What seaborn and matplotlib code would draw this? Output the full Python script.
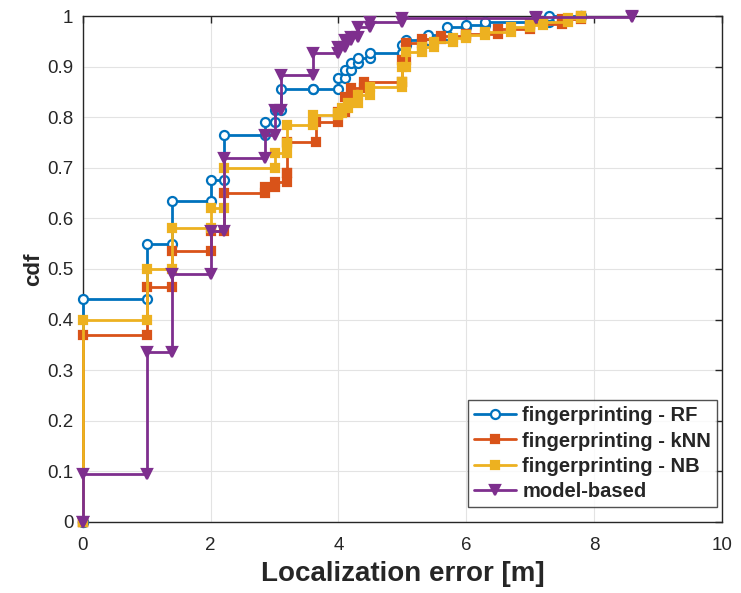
import numpy as np
import pandas as pd
import matplotlib
matplotlib.use("Agg")
import matplotlib.pyplot as plt
import seaborn as sns

# ---- data (step points: value becomes y[i] at x[i]) ----
rf_x = [0, 0, 1, 1.4, 2, 2.2, 2.85, 3.0, 3.1, 3.6, 4.0, 4.1, 4.2, 4.3, 4.5, 5.0, 5.05, 5.4, 5.7, 6.0, 6.3, 7.3, 7.8]
rf_y = [0, 0.44, 0.55, 0.635, 0.675, 0.765, 0.79, 0.815, 0.855, 0.855, 0.877, 0.893, 0.907, 0.917, 0.927, 0.943, 0.953, 0.962, 0.978, 0.982, 0.988, 1.0, 1.0]

knn_x = [0, 0, 1, 1.4, 2, 2.2, 2.85, 3.0, 3.2, 3.2, 3.65, 4.0, 4.1, 4.2, 4.4, 5.0, 5.05, 5.3, 5.6, 6.0, 6.5, 7.0, 7.5, 7.8]
knn_y = [0, 0.37, 0.465, 0.535, 0.575, 0.65, 0.662, 0.672, 0.69, 0.75, 0.79, 0.81, 0.84, 0.858, 0.87, 0.913, 0.947, 0.955, 0.96, 0.965, 0.975, 0.985, 0.995, 1.0]

nb_x = [0, 0, 1, 1.4, 2, 2.2, 3.0, 3.2, 3.2, 3.6, 4.0, 4.05, 4.15, 4.3, 4.5, 5.0, 5.0, 5.05, 5.3, 5.5, 5.8, 6.0, 6.3, 6.7, 7.0, 7.2, 7.6, 7.8]
nb_y = [0, 0.40, 0.50, 0.58, 0.62, 0.70, 0.729, 0.749, 0.785, 0.804, 0.808, 0.818, 0.828, 0.844, 0.86, 0.87, 0.90, 0.929, 0.939, 0.949, 0.957, 0.962, 0.968, 0.978, 0.982, 0.988, 0.996, 1.0]

mb_x = [0, 0, 1, 1.4, 2, 2.2, 2.85, 3.0, 3.1, 3.6, 4.0, 4.1, 4.2, 4.3, 4.5, 5.0, 7.1, 8.6]
mb_y = [0, 0.095, 0.335, 0.49, 0.575, 0.72, 0.765, 0.815, 0.883, 0.927, 0.939, 0.952, 0.958, 0.978, 0.988, 0.996, 0.998, 1.0]

labels = ["fingerprinting - RF", "fingerprinting - kNN", "fingerprinting - NB", "model-based"]
x_ticks = [0, 2, 4, 6, 8, 10]
y_ticks = [0, 0.1, 0.2, 0.3, 0.4, 0.5, 0.6, 0.7, 0.8, 0.9, 1]
y_ticklabels = ["0", "0.1", "0.2", "0.3", "0.4", "0.5", "0.6", "0.7", "0.8", "0.9", "1"]


def stair_vertices(xs, ys):
    vx, vy = [xs[0]], [ys[0]]
    for i in range(1, len(xs)):
        vx += [xs[i], xs[i]]
        vy += [ys[i - 1], ys[i]]
    return vx, vy


sns.set_theme(style="white")
plt.rcParams["font.family"] = ["Liberation Sans", "DejaVu Sans"]

fig = plt.figure(figsize=(7.41, 5.93), dpi=100)
ax = fig.add_axes([0.112, 0.12, 0.862, 0.853])

styles = [
    (rf_x, rf_y, "#0072BD", "o", "white", 6.5),
    (knn_x, knn_y, "#D95319", "s", "#D95319", 5.5),
    (nb_x, nb_y, "#EDB120", "s", "#EDB120", 5.5),
    (mb_x, mb_y, "#7E2F8E", "v", "#7E2F8E", 6.5),
]

for (xs, ys, col, mk, mfc, ms), lab in zip(styles, labels):
    vx, vy = stair_vertices(xs, ys)
    df = pd.DataFrame({"x": vx, "y": vy})
    sns.lineplot(data=df, x="x", y="y", ax=ax, sort=False, estimator=None,
                 color=col, linewidth=2.0, marker=mk, markersize=ms,
                 markerfacecolor=mfc, markeredgecolor=col, markeredgewidth=1.6,
                 label=lab, clip_on=False, zorder=3)

ax.set_xlim(0, 10)
ax.set_ylim(0, 1)
ax.set_xticks(x_ticks)
ax.set_xticklabels([str(t) for t in x_ticks])
ax.set_yticks(y_ticks)
ax.set_yticklabels(y_ticklabels)
ax.grid(True, color="#e3e3e3", linewidth=0.8)
ax.set_axisbelow(True)
for s in ax.spines.values():
    s.set_visible(True)
    s.set_color("#262626")
    s.set_linewidth(1.0)
ax.tick_params(axis="both", direction="in", length=5, width=1, colors="#262626",
               labelsize=13.5, top=True, right=True, labelcolor="#262626")
ax.tick_params(axis="x", pad=11)
ax.tick_params(axis="y", pad=7)
ax.set_xlabel("Localization error [m]", fontsize=20, fontweight="bold", color="#262626", labelpad=5)
ax.set_ylabel("cdf", fontsize=16, fontweight="bold", color="#262626", labelpad=2)

leg = ax.legend(loc="lower right", bbox_to_anchor=(0.993, 0.03), frameon=True, fancybox=False,
                edgecolor="#262626", prop={"weight": "bold", "size": 14.5},
                handlelength=2.1, handletextpad=0.3, borderpad=0.3, labelspacing=0.3,
                borderaxespad=0)
leg.get_frame().set_linewidth(1.0)

fig.savefig("out.png", dpi=100)
